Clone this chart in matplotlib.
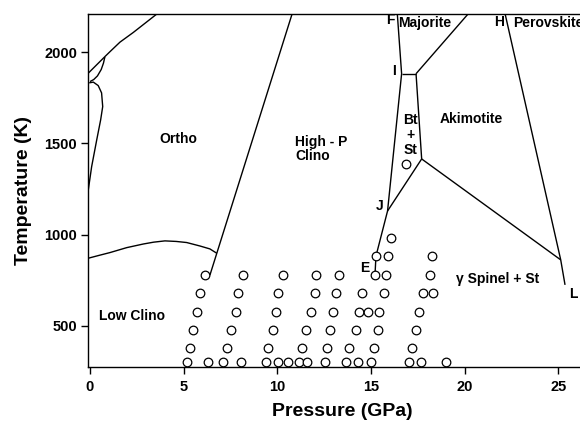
import numpy as np
import matplotlib
matplotlib.use("Agg")
import matplotlib.pyplot as plt

plt.rcParams['font.family'] = ['Liberation Sans', 'DejaVu Sans']
plt.rcParams['font.weight'] = 'bold'

# phase boundaries, pressure in GPa / temperature in K
lowclino_P = [-0.09, 0.5, 1.07, 1.96, 2.85, 3.4, 4.0, 4.6, 5.16, 5.87, 6.4, 6.77]
lowclino_T = [871, 887, 902, 929, 949, 959, 966, 963, 957, 938, 922, 898]

ortho_hpc_P = [6.40, 10.79]
ortho_hpc_T = [778, 2211]

nose_P = [-0.09, 0.09, 0.36, 0.57, 0.68, 0.62, 0.44, 0.18, -0.04]
nose_T = [1245, 1373, 1519, 1629, 1702, 1777, 1817, 1836, 1832]

upper_P = [-0.09, 0.8]
upper_T = [1885, 1976]

loop_P = [0.0, 0.2, 0.4, 0.6, 0.72, 0.8]
loop_T = [1839, 1850, 1870, 1905, 1940, 1976]

melt_P = [0.8, 1.07, 1.6, 2.31, 3.59]
melt_T = [1976, 2003, 2055, 2108, 2211]

# F - I - J - E
fij_P = [16.40, 16.63, 15.88, 15.26, 15.21]
fij_T = [2211, 1882, 1130, 882, 779]

i_tie_P = [16.63, 17.40]
i_tie_T = [1882, 1882]

maj_aki_P = [17.40, 20.19]
maj_aki_T = [1882, 2211]

btst_P = [17.40, 17.70]
btst_T = [1882, 1415]

kj_P = [17.70, 15.88]
kj_T = [1415, 1130]

aki_sp_P = [17.70, 25.12]
aki_sp_T = [1415, 862]

h_line_P = [22.15, 25.12, 25.35]
h_line_T = [2211, 862, 725]

# experimental runs, grouped by temperature
run_rows = {
    300: [5.19, 6.31, 7.12, 8.08, 9.39, 10.03, 10.58, 11.14, 11.58, 12.52,
          13.65, 14.32, 15.0, 17.05, 17.66, 18.98],
    378: [5.34, 7.33, 9.52, 11.34, 12.66, 13.84, 15.16, 17.2],
    478: [5.51, 7.51, 9.78, 11.55, 12.81, 14.19, 15.35, 17.38],
    578: [5.69, 7.77, 9.91, 11.79, 12.95, 14.35, 14.85, 15.44, 17.56],
    679: [5.87, 7.92, 10.05, 11.99, 13.13, 14.5, 15.69, 17.79, 18.32],
    779: [6.14, 8.15, 10.28, 12.07, 13.3, 15.21, 15.8, 18.14],
    882: [15.26, 15.92, 18.26],
    982: [16.06],
    1385: [16.85],
}

x_ticks = [0, 5, 10, 15, 20, 25]
y_ticks = [500, 1000, 1500, 2000]

fig = plt.figure(figsize=(5.8, 4.25), dpi=100)
ax = fig.add_axes([0.1522, 0.1365, 0.8753, 0.8313])

boundaries = [
    (lowclino_P, lowclino_T), (ortho_hpc_P, ortho_hpc_T), (nose_P, nose_T),
    (upper_P, upper_T), (loop_P, loop_T), (melt_P, melt_T), (fij_P, fij_T),
    (i_tie_P, i_tie_T), (maj_aki_P, maj_aki_T), (btst_P, btst_T),
    (kj_P, kj_T), (aki_sp_P, aki_sp_T), (h_line_P, h_line_T),
]
for bp, bt in boundaries:
    ax.plot(bp, bt, color='black', lw=1.0, solid_capstyle='butt',
            solid_joinstyle='round', zorder=2)

for temp, pressures in run_rows.items():
    ax.plot(pressures, [temp] * len(pressures), 'o', ms=6.2, mfc='white',
            mec='black', mew=0.9, zorder=3, clip_on=False)

lab = dict(fontsize=10, fontweight='bold', ha='center', va='center', zorder=4)
ax.text(4.70, 1525, 'Ortho', **lab)
ax.text(10.96, 1470, 'High - P\nClino', fontsize=10, fontweight='bold',
        ha='left', va='center', linespacing=1.05, zorder=4)
ax.text(17.08, 1545, 'Bt\n+\nSt', fontsize=10, fontweight='bold', ha='center',
        va='center', linespacing=1.1, zorder=4)
ax.text(20.37, 1634, 'Akimotite', **lab)
ax.text(17.86, 2161, 'Majorite', **lab)
ax.text(16.02, 2177, 'F', **lab)
ax.text(21.81, 2168, 'H', **lab)
ax.text(22.59, 2161, 'Perovskite', fontsize=10, fontweight='bold', ha='left',
        va='center', zorder=4)
ax.text(16.22, 1895, 'I', **lab)
ax.text(15.48, 1158, 'J', **lab)
ax.text(14.67, 818, 'E', **lab)
ax.text(25.78, 675, 'L', **lab)
ax.text(21.75, 758, 'γ Spinel + St', **lab)
ax.text(2.22, 555, 'Low Clino', **lab)

ax.set_xlim(-0.09, 27.0)
ax.set_ylim(275, 2211)
ax.set_xticks(x_ticks)
ax.set_yticks(y_ticks)
ax.tick_params(direction='out', length=5, width=1.0, labelsize=10.5)
ax.tick_params(axis='x', pad=4.5)
ax.tick_params(axis='y', pad=3)
for lbl in ax.get_xticklabels() + ax.get_yticklabels():
    lbl.set_fontweight('bold')
for s in ax.spines.values():
    s.set_linewidth(1.0)

ax.set_xlabel('Pressure (GPa)', fontsize=14, fontweight='bold', labelpad=6)
ax.set_ylabel('Temperature (K)', fontsize=14, fontweight='bold', labelpad=9)

fig.savefig('out.png', dpi=100)
